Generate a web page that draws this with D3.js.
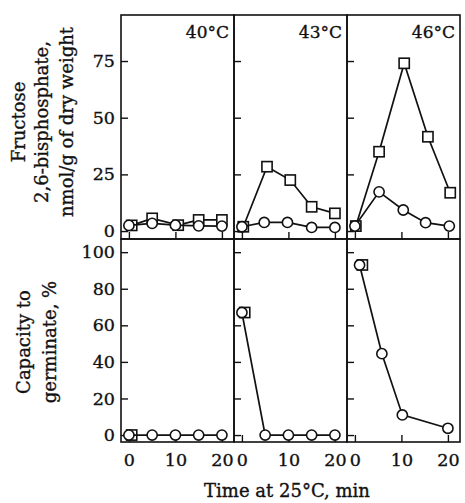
<!DOCTYPE html>
<html>
<head>
<meta charset="utf-8">
<script src="https://cdn.jsdelivr.net/npm/d3@7"></script>
<style>
  body { margin: 0; background: #fff; }
  svg text { font-family: "DejaVu Serif", serif; fill: #111; stroke: #111; stroke-width: 0.35px; }
</style>
</head>
<body>
<main></main>
<script>
var w = 465;
var h = 503;

// panels (heat shock temperature)
var temps = ["40°C", "43°C", "46°C"];

// top row: fructose 2,6-bisphosphate (nmol/g dry weight)
var fbpCircleTime = [[0, 5, 10, 15, 20], [0, 4.8, 9.8, 15, 20], [0, 5.2, 10.4, 15.2, 20.3]];
var fbpCircleVal  = [[2.5, 3.4, 2.6, 2.3, 2.2], [1.9, 3.8, 3.8, 1.6, 1.6], [2.2, 17.3, 9.3, 3.7, 2.2]];
var fbpSquareTime = [[0.6, 5, 10.6, 15, 20], [0.3, 5.4, 10.4, 15, 20], [0.2, 5.2, 10.6, 15.7, 20.5]];
var fbpSquareVal  = [[2.5, 5.6, 2.6, 4.9, 4.9], [1.9, 28.4, 22.5, 10.7, 7.8], [2.2, 35, 74, 41.6, 16.9]];

// bottom row: capacity to germinate (%)
var germCircleTime = [[0, 5, 10, 15, 20], [0, 5, 10, 15, 20], [1, 5.8, 10.2, 20]];
var germCircleVal  = [[0, 0, 0, 0, 0], [67, 0, 0, 0, 0], [93, 44.5, 11, 3.7]];
var germSquareTime = [[0.6], [0.6], [1.6]];
var germSquareVal  = [[0], [67], [93]];

var xTicks = [0, 10, 20];
var fbpTicks = [0, 25, 50, 75];
var germTicks = [0, 20, 40, 60, 80, 100];

// layout
var left = 121, panelW = 113;
var topY0 = 15, topY1 = 239;
var botY0 = 239, botY1 = 442;
var tick = 7;

var svg = d3.select("main").append("svg").attr("width", w).attr("height", h);

var yTop = d3.scaleLinear().domain([-3.5, 95.3]).range([topY1, topY0]);
var yBot = d3.scaleLinear().domain([-3.8, 107.2]).range([botY1, botY0]);

function zip(t, v) {
  return t.map(function (d, i) { return { t: d, v: v[i] }; });
}

function drawSeries(g, x, y, data, shape, withLine) {
  if (withLine) {
    g.append("path")
      .datum(data)
      .attr("fill", "none")
      .attr("stroke", "#111")
      .attr("stroke-width", 1.7)
      .attr("d", d3.line().x(function (d) { return x(d.t); }).y(function (d) { return y(d.v); }));
  }
  if (shape == "circle") {
    g.selectAll("circle.m").data(data).enter().append("circle")
      .attr("class", "m")
      .attr("cx", function (d) { return x(d.t); })
      .attr("cy", function (d) { return y(d.v); })
      .attr("r", 5.1)
      .attr("fill", "#fff").attr("stroke", "#111").attr("stroke-width", 1.6);
  } else {
    var s = 10.2;
    g.selectAll("rect.m").data(data).enter().append("rect")
      .attr("class", "m")
      .attr("x", function (d) { return x(d.t) - s / 2; })
      .attr("y", function (d) { return y(d.v) - s / 2; })
      .attr("width", s).attr("height", s)
      .attr("fill", "#fff").attr("stroke", "#111").attr("stroke-width", 1.6);
  }
}

temps.forEach(function (temp, p) {
  var x0 = left + p * panelW;
  var x = d3.scaleLinear().domain([-1.7, 22.6]).range([x0, x0 + panelW]);

  // ---- top row
  var gt = svg.append("g");
  gt.append("g")
    .attr("transform", "translate(" + x0 + ",0)")
    .call(d3.axisLeft(yTop).tickValues(fbpTicks).tickSizeInner(-tick).tickSizeOuter(0).tickPadding(6)
      .tickFormat(p == 0 ? d3.format("d") : function () { return ""; }));
  gt.append("g")
    .attr("transform", "translate(0," + topY1 + ")")
    .call(d3.axisBottom(x).tickValues(xTicks).tickSizeInner(-tick).tickSizeOuter(0).tickFormat(function () { return ""; }));
  drawSeries(gt, x, yTop, zip(fbpSquareTime[p], fbpSquareVal[p]), "square", true);
  drawSeries(gt, x, yTop, zip(fbpCircleTime[p], fbpCircleVal[p]), "circle", true);
  gt.append("rect")
    .attr("x", x0).attr("y", topY0).attr("width", panelW).attr("height", topY1 - topY0)
    .attr("fill", "none").attr("stroke", "#111").attr("stroke-width", 1.6);
  gt.append("text")
    .attr("x", x0 + panelW - 5).attr("y", 38)
    .attr("text-anchor", "end")
    .attr("font-size", "17px")
    .text(temp);

  // ---- bottom row
  var gb = svg.append("g");
  gb.append("g")
    .attr("transform", "translate(" + x0 + ",0)")
    .call(d3.axisLeft(yBot).tickValues(germTicks).tickSizeInner(-tick).tickSizeOuter(0).tickPadding(6)
      .tickFormat(p == 0 ? d3.format("d") : function () { return ""; }));
  gb.append("g")
    .attr("transform", "translate(0," + botY1 + ")")
    .call(d3.axisBottom(x).tickValues(xTicks).tickSizeInner(-tick).tickSizeOuter(0).tickPadding(12));
  drawSeries(gb, x, yBot, zip(germSquareTime[p], germSquareVal[p]), "square", false);
  drawSeries(gb, x, yBot, zip(germCircleTime[p], germCircleVal[p]), "circle", true);
  gb.append("rect")
    .attr("x", x0).attr("y", botY0).attr("width", panelW).attr("height", botY1 - botY0)
    .attr("fill", "none").attr("stroke", "#111").attr("stroke-width", 1.6);
});

// axis styling
svg.selectAll(".domain").remove();
svg.selectAll(".tick line").attr("stroke", "#111").attr("stroke-width", 1.4);
svg.selectAll(".tick text").attr("font-size", "17.5px").attr("fill", "#111");

// y titles
var topTitle = ["Fructose", "2,6-bisphosphate,", "nmol/g of dry weight"];
var topTitleX = [25, 48, 73];
topTitle.forEach(function (t, i) {
  svg.append("text")
    .attr("transform", "translate(" + topTitleX[i] + ",122) rotate(-90)")
    .attr("text-anchor", "middle")
    .attr("font-size", "18px")
    .text(t);
});
var botTitle = ["Capacity to", "germinate, %"];
var botTitleX = [30, 56];
botTitle.forEach(function (t, i) {
  svg.append("text")
    .attr("transform", "translate(" + botTitleX[i] + ",342) rotate(-90)")
    .attr("text-anchor", "middle")
    .attr("font-size", "18px")
    .text(t);
});

// x title
svg.append("text")
  .attr("x", 287).attr("y", 497)
  .attr("text-anchor", "middle")
  .attr("font-size", "18px")
  .text("Time at 25°C, min");
</script>
</body>
</html>
